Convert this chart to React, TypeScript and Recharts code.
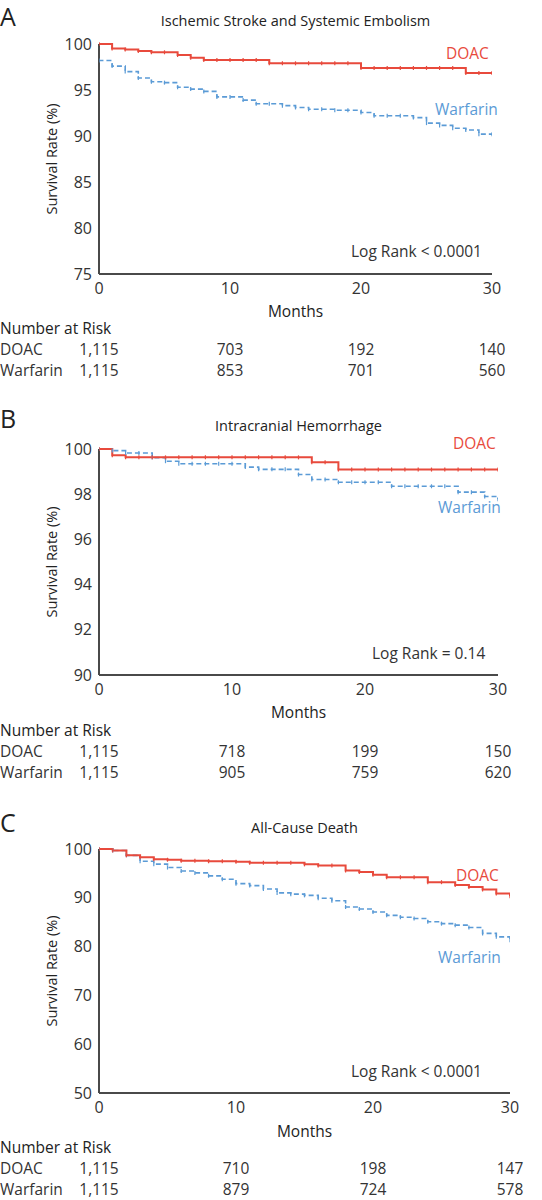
import { LineChart, Line, XAxis, YAxis } from 'recharts';

const RED = '#e84a3c';
const BLUE = '#5b9bd6';
const AXIS = '#4a4a4a';
const INK = '#333333';
const FONT = '"Open Sans", "Noto Sans", sans-serif';

const MONTHS = [0, 1, 2, 3, 4, 5, 6, 7, 8, 9, 10, 11, 12, 13, 14, 15, 16, 17, 18, 19, 20, 21, 22, 23, 24, 25, 26, 27, 28, 29, 30];
const START = 100;
const X_TICKS = [0, 10, 20, 30];

// A: ischemic stroke and systemic embolism
const DOAC_A = [100, 99.5, 99.4, 99.25, 99.1, 99.1, 98.8, 98.5, 98.25, 98.25, 98.25, 98.25, 98.25, 97.9, 97.9, 97.9, 97.9, 97.9, 97.9, 97.9, 97.4, 97.4, 97.4, 97.4, 97.4, 97.4, 97.4, 97.4, 96.85, 96.85, 96.85];
const WARFARIN_A = [98.2, 97.6, 97.0, 96.3, 95.9, 95.8, 95.3, 95.1, 94.85, 94.25, 94.25, 93.9, 93.5, 93.5, 93.3, 93.1, 92.9, 92.9, 92.8, 92.8, 92.55, 92.2, 92.2, 92.2, 92.0, 91.4, 91.15, 90.85, 90.65, 90.2, 90.2];
const Y_TICKS_A = [75, 80, 85, 90, 95, 100];
const RISK_DOAC_A = ['1,115', '703', '192', '140'];
const RISK_WARFARIN_A = ['1,115', '853', '701', '560'];

// B: intracranial hemorrhage
const DOAC_B = [100, 99.72, 99.63, 99.63, 99.63, 99.63, 99.63, 99.63, 99.63, 99.63, 99.63, 99.63, 99.63, 99.63, 99.63, 99.63, 99.41, 99.41, 99.09, 99.09, 99.09, 99.09, 99.09, 99.09, 99.09, 99.09, 99.09, 99.09, 99.09, 99.09, 99.09];
const WARFARIN_B = [100, 99.93, 99.82, 99.82, 99.62, 99.46, 99.35, 99.35, 99.35, 99.35, 99.35, 99.2, 99.1, 99.1, 99.1, 98.87, 98.65, 98.65, 98.53, 98.53, 98.53, 98.53, 98.35, 98.35, 98.35, 98.35, 98.35, 98.09, 98.09, 97.9, 97.78];
const Y_TICKS_B = [90, 92, 94, 96, 98, 100];
const RISK_DOAC_B = ['1,115', '718', '199', '150'];
const RISK_WARFARIN_B = ['1,115', '905', '759', '620'];

// C: all-cause death
const DOAC_C = [100, 99.7, 98.7, 98.3, 97.9, 97.8, 97.6, 97.6, 97.5, 97.5, 97.4, 97.2, 97.2, 97.2, 97.2, 96.85, 96.6, 96.6, 95.6, 95.3, 94.7, 94.2, 94.2, 94.2, 93.2, 93.2, 92.6, 92.2, 91.7, 90.9, 90.3];
const WARFARIN_C = [100, 99.7, 98.7, 97.5, 96.9, 96.2, 95.5, 95.1, 94.5, 93.8, 92.9, 92.5, 91.8, 91.0, 90.75, 90.5, 89.9, 89.4, 88.1, 87.7, 87.1, 86.4, 86.0, 85.75, 85.1, 84.7, 84.4, 83.9, 82.7, 82.0, 81.3];
const Y_TICKS_C = [50, 60, 70, 80, 90, 100];
const RISK_DOAC_C = ['1,115', '710', '198', '147'];
const RISK_WARFARIN_C = ['1,115', '879', '724', '578'];

const toPoints = (values: number[]) => [
  { t: 0, v: START },
  ...MONTHS.map((t, i) => ({ t, v: values[i] })),
];

const PLOT_LEFT = 99;
const TEXT = 15.5;

function CensorTick(props: any) {
  const { cx, cy, stroke, index } = props;
  if (cx == null || cy == null || index === 0) return <g key={`d${index}`} />;
  return <line key={`d${index}`} x1={cx} x2={cx} y1={cy - 2} y2={cy + 2} stroke={stroke} strokeWidth={1.2} />;
}

interface PanelProps {
  letter: string;
  letterY: number;
  title: string;
  titleY: number;
  plotTop: number;
  plotBottom: number;
  plotRight: number;
  yTicks: number[];
  doac: number[];
  warfarin: number[];
  doacLabel: [number, number];
  warfarinLabel: [number, number];
  logRank: string;
  logRankPos: [number, number];
  monthsY: number;
  riskY: number;
  riskDoac: string[];
  riskWarfarin: string[];
}

const abs = (x: number, y: number, extra: React.CSSProperties = {}): React.CSSProperties => ({
  position: 'absolute',
  left: x,
  top: y,
  lineHeight: 1,
  whiteSpace: 'nowrap',
  ...extra,
});

function Panel(p: PanelProps) {
  const pad = 10;
  const xAxisH = 30;
  const chartTop = p.plotTop - pad;
  const chartH = p.plotBottom - p.plotTop + pad + xAxisH;
  const tickX = (t: number) => PLOT_LEFT + (t / 30) * (p.plotRight - PLOT_LEFT);
  const plotMidY = (p.plotTop + p.plotBottom) / 2;

  return (
    <>
      <div style={abs(0, p.letterY, { fontSize: 25, transform: 'translateY(-50%)', color: '#222' })}>{p.letter}</div>
      <div style={abs((PLOT_LEFT + p.plotRight) / 2, p.titleY, { fontSize: 14.5, transform: 'translate(-50%,-50%)', color: '#222' })}>
        {p.title}
      </div>
      <div
        style={abs(52, plotMidY, {
          fontSize: 14.5,
          color: '#222',
          transform: 'translate(-50%,-50%) rotate(-90deg)',
        })}
      >
        Survival Rate (%)
      </div>
      <div style={{ position: 'absolute', left: 0, top: chartTop }}>
        <LineChart
          width={542}
          height={chartH}
          margin={{ top: pad, right: 542 - p.plotRight, bottom: 0, left: 0 }}
        >
          <XAxis
            type="number"
            dataKey="t"
            domain={[0, 30]}
            ticks={X_TICKS}
            tickLine={false}
            tickSize={0}
            tickMargin={9}
            height={xAxisH}
            axisLine={{ stroke: AXIS, strokeWidth: 2 }}
            tick={{ fill: INK, fontSize: 16, fontFamily: FONT }}
            allowDataOverflow
          />
          <YAxis
            type="number"
            domain={[p.yTicks[0], 100]}
            ticks={p.yTicks}
            tickLine={false}
            tickSize={0}
            tickMargin={7}
            width={PLOT_LEFT}
            axisLine={{ stroke: AXIS, strokeWidth: 2 }}
            tick={{ fill: INK, fontSize: 16, fontFamily: FONT }}
          />
          <Line
            data={toPoints(p.warfarin)}
            dataKey="v"
            type="stepAfter"
            stroke={BLUE}
            strokeWidth={1.6}
            strokeDasharray="5 3"
            dot={<CensorTick />}
            activeDot={false}
            isAnimationActive={false}
          />
          <Line
            data={toPoints(p.doac)}
            dataKey="v"
            type="stepAfter"
            stroke={RED}
            strokeWidth={2}
            dot={<CensorTick />}
            activeDot={false}
            isAnimationActive={false}
          />
        </LineChart>
      </div>
      <div style={abs(p.doacLabel[0], p.doacLabel[1], { fontSize: TEXT, color: RED, transform: 'translateY(-50%)' })}>DOAC</div>
      <div style={abs(p.warfarinLabel[0], p.warfarinLabel[1], { fontSize: TEXT, color: BLUE, transform: 'translateY(-50%)' })}>
        Warfarin
      </div>
      <div style={abs(p.logRankPos[0], p.logRankPos[1], { fontSize: TEXT, color: INK, transform: 'translateY(-50%)' })}>
        {p.logRank}
      </div>
      <div style={abs((PLOT_LEFT + p.plotRight) / 2, p.monthsY, { fontSize: TEXT, color: '#222', transform: 'translate(-50%,-50%)' })}>
        Months
      </div>
      <div style={abs(0, p.riskY, { fontSize: TEXT, color: '#222', transform: 'translateY(-50%)' })}>Number at Risk</div>
      {[
        ['DOAC', p.riskDoac],
        ['Warfarin', p.riskWarfarin],
      ].map(([name, vals], r) => (
        <div key={name as string}>
          <div style={abs(0, p.riskY + 21 * (r + 1), { fontSize: TEXT, color: INK, transform: 'translateY(-50%)' })}>{name as string}</div>
          {(vals as string[]).map((v, i) => (
            <div
              key={i}
              style={abs(tickX(X_TICKS[i]), p.riskY + 21 * (r + 1), { fontSize: TEXT, color: INK, transform: 'translate(-50%,-50%)' })}
            >
              {v}
            </div>
          ))}
        </div>
      ))}
    </>
  );
}

export default function App() {
  return (
    <div
      style={{
        position: 'absolute',
        left: 0,
        top: 0,
        width: 542,
        height: 1200,
        background: '#fff',
        fontFamily: FONT,
        overflow: 'hidden',
      }}
    >
      <Panel
        letter="A"
        letterY={16}
        title="Ischemic Stroke and Systemic Embolism"
        titleY={21}
        plotTop={44}
        plotBottom={274}
        plotRight={492}
        yTicks={Y_TICKS_A}
        doac={DOAC_A}
        warfarin={WARFARIN_A}
        doacLabel={[446, 54]}
        warfarinLabel={[435, 110]}
        logRank="Log Rank < 0.0001"
        logRankPos={[351, 252]}
        monthsY={312}
        riskY={329}
        riskDoac={RISK_DOAC_A}
        riskWarfarin={RISK_WARFARIN_A}
      />
      <Panel
        letter="B"
        letterY={418}
        title="Intracranial Hemorrhage"
        titleY={426}
        plotTop={449}
        plotBottom={675}
        plotRight={498}
        yTicks={Y_TICKS_B}
        doac={DOAC_B}
        warfarin={WARFARIN_B}
        doacLabel={[453, 444]}
        warfarinLabel={[438, 508]}
        logRank="Log Rank = 0.14"
        logRankPos={[372, 654]}
        monthsY={713}
        riskY={731}
        riskDoac={RISK_DOAC_B}
        riskWarfarin={RISK_WARFARIN_B}
      />
      <Panel
        letter="C"
        letterY={822}
        title="All-Cause Death"
        titleY={828}
        plotTop={849}
        plotBottom={1093}
        plotRight={510}
        yTicks={Y_TICKS_C}
        doac={DOAC_C}
        warfarin={WARFARIN_C}
        doacLabel={[456, 876]}
        warfarinLabel={[438, 958]}
        logRank="Log Rank < 0.0001"
        logRankPos={[351, 1072]}
        monthsY={1132}
        riskY={1148}
        riskDoac={RISK_DOAC_C}
        riskWarfarin={RISK_WARFARIN_C}
      />
    </div>
  );
}
